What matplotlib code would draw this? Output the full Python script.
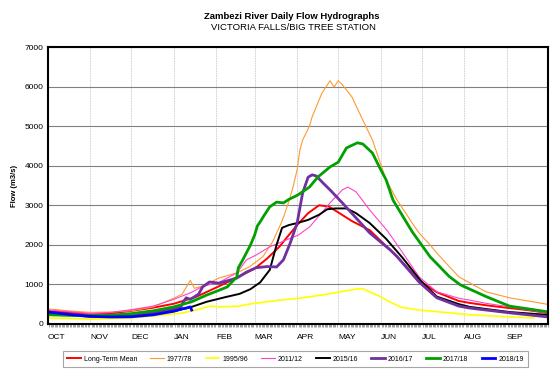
import matplotlib
matplotlib.use("Agg")
import matplotlib.pyplot as plt
import numpy as np

plt.rcParams['font.family'] = ['Liberation Sans', 'DejaVu Sans']

# hydrological year, day 0 = 1 October
month_labels = ['OCT', 'NOV', 'DEC', 'JAN', 'FEB', 'MAR', 'APR', 'MAY', 'JUN', 'JUL', 'AUG', 'SEP']
month_days = [31, 30, 31, 31, 28, 31, 30, 31, 30, 31, 31, 30]

# Long-Term Mean
mean_days = [0, 15, 31, 46, 61, 77, 92, 108, 123, 137, 151, 160, 169, 176, 182, 190, 198, 205, 212, 222,
             235, 243, 255, 271, 284, 300, 308, 320, 337, 350, 364]
mean_flow = [330, 290, 250, 265, 330, 410, 510, 680, 920, 1150, 1400, 1650, 1950, 2250, 2500, 2800, 3000, 2970,
             2820, 2600, 2370, 2100, 1700, 1100, 800, 580, 530, 470, 400, 350, 280]

# 1977/78
y7778_days = [0, 15, 31, 46, 61, 77, 92, 98, 104, 107, 113, 125, 138, 147, 157, 164, 171, 176, 179, 182, 184,
              186, 191, 193, 200, 206, 209, 212, 215, 222, 230, 237, 242, 247, 255, 266, 271, 279, 284, 300,
              320, 337, 364]
y7778_flow = [380, 330, 290, 300, 330, 430, 650, 750, 1100, 900, 960, 1160, 1290, 1440, 1700, 2070, 2600, 3100,
              3460, 3900, 4400, 4650, 5000, 5240, 5830, 6150, 5990, 6150, 6050, 5740, 5150, 4650, 4140, 3640,
              3130, 2550, 2300, 2000, 1790, 1190, 810, 660, 500]

# 1995/96
y9596_days = [0, 31, 61, 77, 92, 99, 108, 116, 120, 125, 140, 147, 169, 184, 200, 215, 225, 230, 242, 250, 258,
              271, 290, 308, 330, 355]
y9596_flow = [150, 125, 150, 200, 250, 280, 350, 430, 450, 430, 450, 500, 600, 650, 730, 820, 880, 890, 700,
              550, 420, 350, 290, 230, 190, 150]

# 2011/12
y1112_days = [0, 15, 31, 46, 61, 77, 92, 105, 113, 125, 138, 145, 152, 162, 174, 183, 191, 196, 206, 215, 219,
              225, 235, 248, 260, 271, 284, 300, 308, 320, 337, 364]
y1112_flow = [350, 310, 260, 290, 360, 450, 620, 800, 950, 1050, 1290, 1620, 1740, 1950, 2120, 2250, 2450, 2650,
              3060, 3390, 3460, 3340, 2880, 2350, 1750, 1190, 810, 650, 600, 520, 430, 280]

# 2015/16
y1516_days = [0, 15, 31, 46, 61, 74, 92, 105, 116, 130, 140, 148, 155, 162, 167, 171, 176, 182, 190, 198, 204,
              210, 218, 225, 235, 247, 259, 272, 284, 300, 308, 337, 364]
y1516_flow = [260, 230, 200, 210, 230, 260, 320, 430, 560, 680, 760, 880, 1050, 1365, 2000, 2430, 2500, 2550,
              2630, 2760, 2900, 2920, 2920, 2800, 2550, 2150, 1670, 1100, 690, 500, 430, 300, 230]

# 2016/17
y1617_days = [0, 15, 31, 46, 61, 77, 92, 97, 99, 101, 104, 110, 113, 118, 125, 138, 145, 152, 160, 167, 172,
              177, 182, 186, 190, 193, 196, 201, 206, 215, 225, 235, 250, 255, 271, 284, 300, 308, 337, 364]
y1617_flow = [280, 240, 190, 200, 230, 280, 380, 420, 560, 660, 620, 750, 935, 1060, 1030, 1160, 1310, 1420,
              1450, 1440, 1620, 2050, 2550, 3310, 3710, 3770, 3740, 3560, 3390, 3060, 2680, 2300, 1870, 1700,
              1060, 660, 450, 400, 280, 180]

# 2017/18
y1718_days = [0, 15, 31, 46, 61, 77, 92, 105, 116, 125, 131, 138, 139, 142, 145, 148, 151, 153, 155, 158, 162,
              167, 172, 176, 182, 191, 197, 206, 212, 218, 226, 230, 237, 242, 247, 252, 266, 279, 293, 301,
              320, 337, 364]
y1718_flow = [230, 215, 200, 220, 260, 330, 430, 560, 730, 850, 935, 1190, 1415, 1600, 1800, 2000, 2250, 2480,
              2580, 2750, 2960, 3080, 3060, 3150, 3250, 3460, 3710, 3970, 4090, 4450, 4580, 4550, 4320, 3970,
              3640, 3130, 2330, 1700, 1200, 990, 690, 450, 310]

# 2018/19 (partial year)
y1819_days = [0, 15, 31, 46, 61, 77, 92, 98, 101, 104, 105]
y1819_flow = [300, 240, 190, 175, 180, 230, 320, 380, 400, 430, 350]

series = [
    ('Long-Term Mean', mean_days, mean_flow, '#FF0000', 1.4),
    ('1977/78', y7778_days, y7778_flow, '#FF9933', 0.8),
    ('1995/96', y9596_days, y9596_flow, '#FFFF00', 1.2),
    ('2011/12', y1112_days, y1112_flow, '#FF44CC', 0.8),
    ('2015/16', y1516_days, y1516_flow, '#000000', 1.4),
    ('2016/17', y1617_days, y1617_flow, '#7030A0', 2.0),
    ('2017/18', y1718_days, y1718_flow, '#00A000', 2.0),
    ('2018/19', y1819_days, y1819_flow, '#0000FF', 2.0),
]

fig = plt.figure(figsize=(5.5, 3.74), dpi=100)
ax = fig.add_axes([0.087, 0.134, 0.909, 0.740])

for name, d, q, col, lw in series:
    ax.plot(d, q, color=col, lw=lw, label=name)

month_starts = np.concatenate([[0], np.cumsum(month_days)[:-1]])
ax.set_xlim(0, 365)
ax.set_ylim(0, 7000)
ax.set_xticks(month_starts)
ax.set_xticklabels(month_labels, ha='left', fontsize=6)
ax.set_xticks(np.arange(0, 366, 1), minor=True)
ax.tick_params(axis='x', which='major', length=0, pad=7)
ax.tick_params(axis='x', which='minor', length=2.5, width=0.4, color='#555555')
ax.set_yticks(np.arange(0, 7001, 1000))
ax.tick_params(axis='y', length=0, labelsize=6, pad=3)
ax.grid(axis='y', color='#808080', lw=0.8)
ax.grid(axis='x', which='major', color='#cccccc', lw=0.6, ls=(0, (2, 1)))
ax.set_axisbelow(True)
for s in ax.spines.values():
    s.set_linewidth(1.5)
ax.set_ylabel('Flow (m3/s)', fontsize=5.5, fontweight='bold', labelpad=5)

fig.text(0.531, 0.957, 'Zambezi River Daily Flow Hydrographs', ha='center', va='center',
         fontsize=6.8, fontweight='bold')
fig.text(0.533, 0.927, 'VICTORIA FALLS/BIG TREE STATION', ha='center', va='center', fontsize=6.8)

leg = fig.legend(loc='center', bbox_to_anchor=(0.537, 0.04), ncol=8, fontsize=5, frameon=True,
                 fancybox=False, edgecolor='#909090', handlelength=2.0, columnspacing=1.9,
                 handletextpad=0.4, borderpad=0.6, borderaxespad=0)
leg.get_frame().set_linewidth(0.8)

fig.savefig('out.png', dpi=100)
